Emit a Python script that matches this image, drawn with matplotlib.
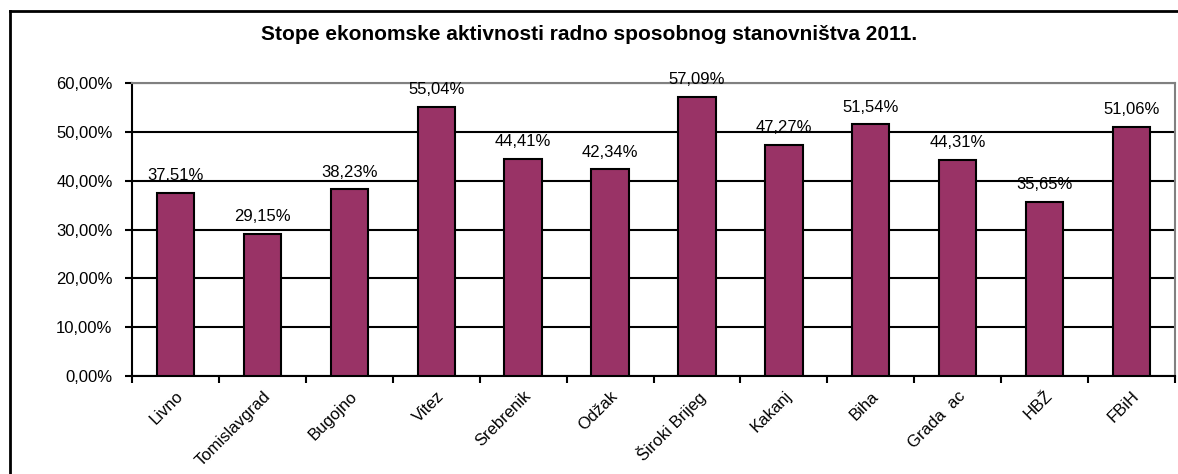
import matplotlib
matplotlib.use("Agg")
import matplotlib.pyplot as plt
import numpy as np
from matplotlib.lines import Line2D
from matplotlib.ticker import FixedLocator

plt.rcParams['font.family'] = ['Liberation Sans', 'DejaVu Sans']

# data
categories = ["Livno", "Tomislavgrad", "Bugojno", "Vitez", "Srebrenik", "Odžak",
              "Široki Brijeg", "Kakanj", "Biha", "Grada  ac", "HBŽ", "FBiH"]
rates = [37.51, 29.15, 38.23, 55.04, 44.41, 42.34, 57.09, 47.27, 51.54, 44.31, 35.65, 51.06]
value_labels = ["37,51%", "29,15%", "38,23%", "55,04%", "44,41%", "42,34%",
                "57,09%", "47,27%", "51,54%", "44,31%", "35,65%", "51,06%"]
y_ticks = [0, 10, 20, 30, 40, 50, 60]
y_tick_labels = ["0,00%", "10,00%", "20,00%", "30,00%", "40,00%", "50,00%", "60,00%"]
title = "Stope ekonomske aktivnosti radno sposobnog stanovništva 2011."

fig = plt.figure(figsize=(11.78, 4.74), dpi=100)

# outer chart frame: only top and left edges are inside the picture
fx = 9.5 / 1178
fy = 1 - 10.5 / 474
fig.lines.append(Line2D([fx, 1.0], [fy, fy], transform=fig.transFigure, color="black", linewidth=2))
fig.lines.append(Line2D([fx, fx], [0.0, fy], transform=fig.transFigure, color="black", linewidth=2))

ax = fig.add_axes([132 / 1178, 1 - 376 / 474, (1175 - 132) / 1178, (376 - 83) / 474])

x = np.arange(len(categories))
ax.bar(x, rates, width=0.43, color="#993366", edgecolor="black", linewidth=1.5, zorder=3)

for xi, v, lab in zip(x, rates, value_labels):
    ax.annotate(lab, (xi, v), xytext=(0, 7), textcoords="offset points",
                ha="center", va="bottom", fontsize=12, zorder=4)

ax.set_xlim(-0.5, len(categories) - 0.5)
ax.set_ylim(0, 60)
ax.set_yticks(y_ticks)
ax.set_yticklabels(y_tick_labels, fontsize=12)
ax.yaxis.grid(True, color="black", linewidth=1.5, zorder=0)
ax.set_axisbelow(True)

ax.set_xticks(x)
ax.set_xticklabels(categories, rotation=45, ha="right", rotation_mode="anchor", fontsize=12)
ax.xaxis.set_minor_locator(FixedLocator(np.arange(len(categories) + 1) - 0.5))
ax.tick_params(axis="x", which="major", length=0, pad=9)
ax.tick_params(axis="x", which="minor", length=5, width=1.5, color="black")
ax.tick_params(axis="y", length=5, width=1.5, color="black", pad=9)

for side in ["left", "bottom"]:
    ax.spines[side].set_color("black")
    ax.spines[side].set_linewidth(1.5)
for side in ["top", "right"]:
    ax.spines[side].set_color("#808080")
    ax.spines[side].set_linewidth(1.5)

fig.text(0.5, 1 - 35 / 474, title, ha="center", va="center", fontsize=15, fontweight="bold")

fig.savefig("out.png", dpi=100)
